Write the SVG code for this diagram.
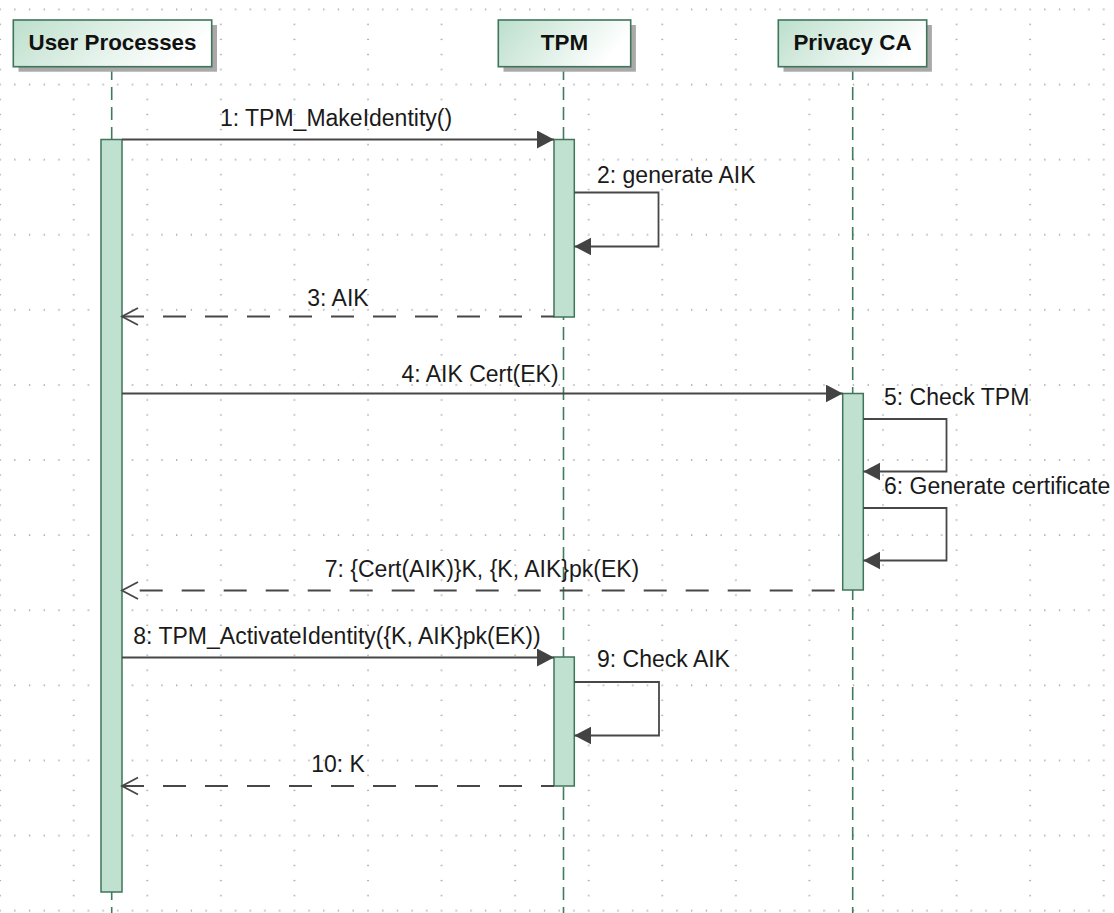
<svg xmlns="http://www.w3.org/2000/svg" width="1114" height="913" viewBox="0 0 1114 913">
<style>
.hdr{fill:url(#hdrGrad);stroke:#3f755a;stroke-width:1.6}
.shadow{fill:#a9a9a9}
.hdrText{font-family:"Liberation Sans",Arial,sans-serif;font-weight:bold;font-size:22.4px;fill:#111;text-anchor:middle}
.life{stroke:#3f7c5c;stroke-width:1.6;stroke-dasharray:13 7;fill:none}
.act{fill:#c0e1d0;stroke:#3f755a;stroke-width:1.5}
.msg{stroke:#474747;stroke-width:1.8;fill:none}
.ret{stroke:#474747;stroke-width:1.8;fill:none;stroke-dasharray:23 19}
.lbl{font-family:"Liberation Sans",Arial,sans-serif;font-size:23px;fill:#1a1a1a}
.mid{text-anchor:middle}
</style>
<defs>
<linearGradient id="hdrGrad" x1="0" y1="0" x2="1" y2="0.3">
<stop offset="0" stop-color="#bcdfcc"/>
<stop offset="1" stop-color="#ffffff"/>
</linearGradient>
<pattern id="grid" patternUnits="userSpaceOnUse" x="-0.9" y="8.4" width="73.57" height="75.1">
<g fill="#888888">
<rect x="0.4" y="0.4" width="1.3" height="1.3"/>
<rect x="0.4" y="15.4" width="1.3" height="1.3"/>
<rect x="0.4" y="30.4" width="1.3" height="1.3"/>
<rect x="0.4" y="45.4" width="1.3" height="1.3"/>
<rect x="0.4" y="60.4" width="1.3" height="1.3"/>
<rect x="15.1" y="0.4" width="1.3" height="1.3"/>
<rect x="29.8" y="0.4" width="1.3" height="1.3"/>
<rect x="44.5" y="0.4" width="1.3" height="1.3"/>
<rect x="59.2" y="0.4" width="1.3" height="1.3"/>
</g>
</pattern>
<marker id="filled" markerUnits="userSpaceOnUse" markerWidth="20" markerHeight="20" refX="17" refY="9" orient="auto">
<path d="M0,0 L17,9 L0,18 z" fill="#434343"/>
</marker>
<marker id="open" markerUnits="userSpaceOnUse" markerWidth="20" markerHeight="20" refX="16" refY="9" orient="auto" overflow="visible">
<path d="M0,0.5 L16,9 L0,17.5" fill="none" stroke="#474747" stroke-width="1.8"/>
</marker>
</defs>

<rect width="1114" height="913" fill="#ffffff"/>
<rect id="grid-bg" width="1114" height="913" fill="url(#grid)"/>

<g id="node-user">
<line class="life" x1="111.7" y1="67" x2="111.7" y2="913"/>
<rect class="shadow" x="18.5" y="25" width="198.5" height="46.7"/>
<rect class="hdr" x="13.3" y="20" width="198.4" height="46.7"/>
<text class="hdrText" x="112.5" y="49.5">User Processes</text>
<rect class="act" x="101" y="139.5" width="21" height="752.5"/>
</g>

<g id="node-tpm">
<line class="life" x1="563.5" y1="67" x2="563.5" y2="913"/>
<rect class="shadow" x="503.5" y="25" width="132.4" height="46.7"/>
<rect class="hdr" x="498.3" y="20" width="132.4" height="46.7"/>
<text class="hdrText" x="564.5" y="49.5">TPM</text>
<rect class="act" x="554" y="139.5" width="20.3" height="177.5"/>
<rect class="act" x="554" y="657" width="20.3" height="129"/>
</g>

<g id="node-privacyca">
<line class="life" x1="852.7" y1="67" x2="852.7" y2="913"/>
<rect class="shadow" x="783.5" y="25" width="148.4" height="46.7"/>
<rect class="hdr" x="778.3" y="20" width="148.4" height="46.7"/>
<text class="hdrText" x="852.5" y="49.5">Privacy CA</text>
<rect class="act" x="842.7" y="393.5" width="20.6" height="196.5"/>
</g>

<g id="connectors">
<path class="msg" d="M122,139.5 H554" marker-end="url(#filled)"/>
<text class="lbl mid" x="336" y="125.5">1: TPM_MakeIdentity()</text>

<path class="msg" d="M574.3,192.5 H658.5 V246.5 H574.3" marker-end="url(#filled)"/>
<text class="lbl" x="597" y="182.5">2: generate AIK</text>

<path class="ret" d="M554,316.5 H122" stroke-dashoffset="10" marker-end="url(#open)"/>
<text class="lbl mid" x="338" y="306">3: AIK</text>

<path class="msg" d="M122,393.5 H842.7" marker-end="url(#filled)"/>
<text class="lbl mid" x="480" y="381.5">4: AIK Cert(EK)</text>

<path class="msg" d="M863.3,419 H946.5 V471.5 H863.3" marker-end="url(#filled)"/>
<text class="lbl" x="884" y="405">5: Check TPM</text>

<path class="msg" d="M863.3,508 H946.5 V560.5 H863.3" marker-end="url(#filled)"/>
<text class="lbl" x="884" y="493.5">6: Generate certificate</text>

<path class="ret" d="M842.7,590.5 H122" stroke-dashoffset="34" marker-end="url(#open)"/>
<text class="lbl mid" x="482" y="577">7: {Cert(AIK)}K, {K, AIK}pk(EK)</text>

<path class="msg" d="M122,657.5 H554" marker-end="url(#filled)"/>
<text class="lbl mid" x="337" y="644">8: TPM_ActivateIdentity({K, AIK}pk(EK))</text>

<path class="msg" d="M574.3,682 H659 V735.5 H574.3" marker-end="url(#filled)"/>
<text class="lbl" x="597" y="667">9: Check AIK</text>

<path class="ret" d="M554,786 H122" stroke-dashoffset="10" marker-end="url(#open)"/>
<text class="lbl mid" x="338" y="772">10: K</text>
</g>
</svg>
